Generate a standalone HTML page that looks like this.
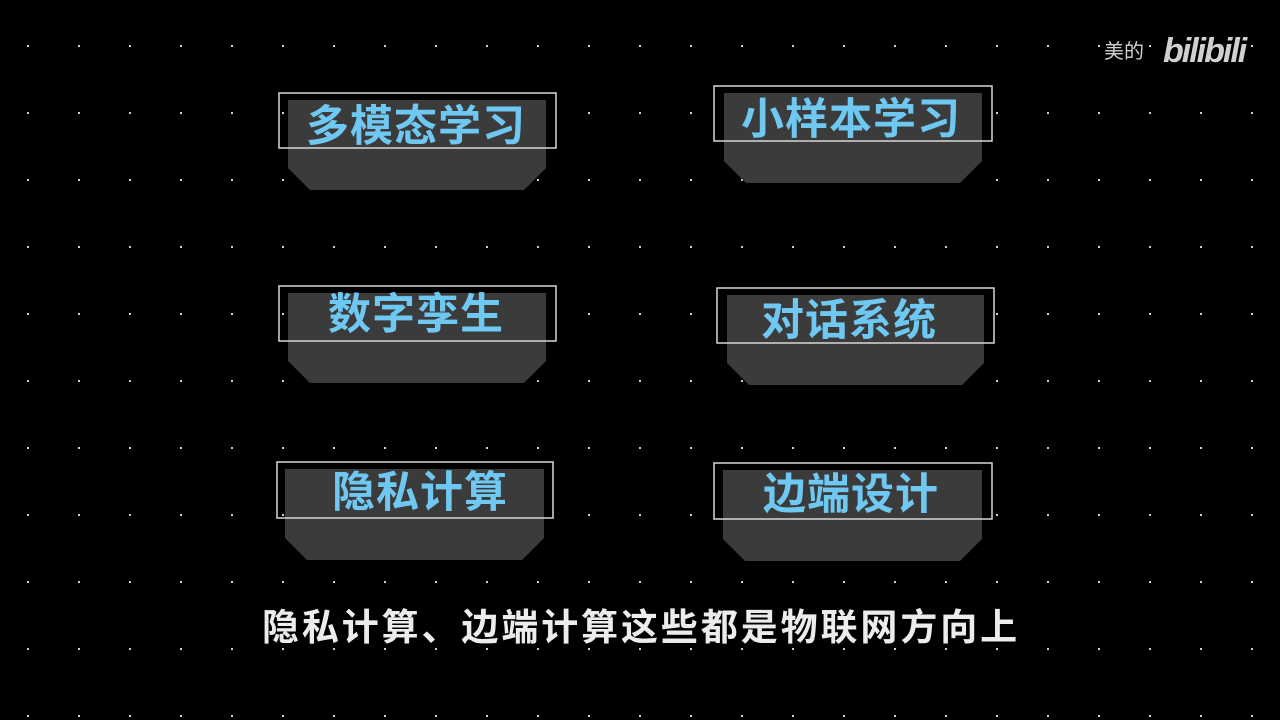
<!DOCTYPE html>
<html><head><meta charset="utf-8"><style>
html,body{margin:0;padding:0;background:#000;}
svg{display:block}
.t{font-family:"Liberation Sans","Noto Sans CJK SC",sans-serif;font-weight:bold;}
</style></head><body>
<svg width="1280" height="720" viewBox="0 0 1280 720" xmlns="http://www.w3.org/2000/svg">
<defs>
<pattern id="dots" x="27" y="45" width="51" height="67" patternUnits="userSpaceOnUse">
<rect x="0" y="0" width="2" height="2" fill="#cfcfcf"/>
</pattern>
</defs>
<rect width="1280" height="720" fill="#000"/>
<rect width="1280" height="720" fill="url(#dots)"/>

<g fill="#3b3b3b">
<polygon points="288,100 546,100 546,168 524,190 310,190 288,168"/>
<polygon points="724,93 982,93 982,161 960,183 746,183 724,161"/>
<polygon points="288,293 546,293 546,361 524,383 310,383 288,361"/>
<polygon points="727,295 984,295 984,363 962,385 749,385 727,363"/>
<polygon points="285,469 544,469 544,538 522,560 307,560 285,538"/>
<polygon points="723,470 982,470 982,539 960,561 745,561 723,539"/>
</g>
<g fill="none" stroke="#d8d8d8" stroke-width="1.5">
<rect x="279" y="93" width="277" height="55"/>
<rect x="714" y="86" width="278" height="55"/>
<rect x="279" y="286" width="277" height="55"/>
<rect x="717" y="288" width="277" height="55"/>
<rect x="277" y="462" width="276" height="56"/>
<rect x="714" y="463" width="278" height="56"/>
</g>
<g class="t" fill="#6fc8f2" font-size="43" text-anchor="middle" letter-spacing="1">
<text x="416" y="141">多模态学习</text>
<text x="851" y="134">小样本学习</text>
<text x="416" y="329">数字孪生</text>
<text x="849" y="335">对话系统</text>
<text x="420" y="507">隐私计算</text>
<text x="851" y="509">边端设计</text>
</g>
<text class="t" x="641" y="640" fill="#ececec" font-size="37" text-anchor="middle" letter-spacing="2.9">隐私计算、边端计算这些都是物联网方向上</text>

<text x="1104" y="58" fill="#d0d0d0" font-size="20" font-family="'Liberation Sans','Noto Sans CJK SC',sans-serif">美的</text>
<text x="1163" y="62" fill="#d0d0d0" font-size="34" font-weight="bold" font-style="italic" font-family="'Liberation Sans',sans-serif" letter-spacing="-2">bilibili</text>
</svg>
</body></html>
